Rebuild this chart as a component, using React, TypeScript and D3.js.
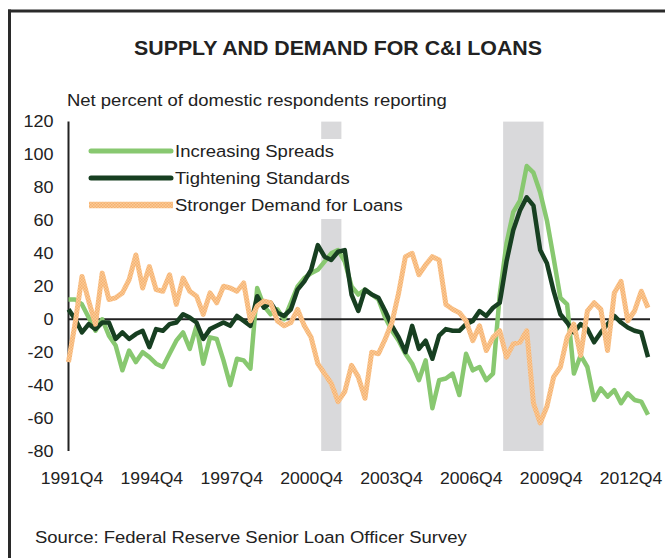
import React from "react";
import * as d3 from "d3";

// ---------- DATA ----------
const firstYear = 1991;
const firstQuarter = 4;
const nQuarters = 87; // 1991Q4 .. 2013Q2
const quarters: string[] = [];
{
  let y = firstYear, q = firstQuarter;
  for (let k = 0; k < nQuarters; k++) {
    quarters.push(`${y}Q${q}`);
    q++;
    if (q > 4) { q = 1; y++; }
  }
}

const increasingSpreads = [
  12, 12, 9, 1, -7, 0, -10, -16, -31, -19,
  -26, -20, -23, -27, -29, -21, -13, -8, -18, -4,
  -27, -11, -12, -25, -40, -24, -25, -30, 19, 8,
  3, 6, 0, 10, 20, 25, 28, 30, 35, 40,
  42, 35, 20, 15, 18, 15, 12, 1, -7, -13,
  -21, -27, -37, -25, -54, -37, -36, -33, -46, -21,
  -31, -29, -37, -33, 15, 46, 65, 72, 93, 89,
  77, 60, 37, 13, 9, -33, -22, -29, -49, -42,
  -47, -43, -51, -45, -49, -50, -58,
];

const tighteningStandards = [
  6, 0, -8, -3, -6, -2, -2, -12, -8, -12,
  -9, -7, -17, -6, -7, -3, -2, 3, 1, -2,
  -12, -6, -4, -2, -4, 2, -1, -4, 14, 7,
  10, 4, 2, 6, 18, 23, 30, 45, 38, 36,
  41, 42, 15, 5, 18, 15, 13, 5, -4, -11,
  -20, -4, -18, -13, -24, -10, -6, -7, -7, -3,
  -1, 5, 2, 7, 10, 35, 54, 66, 74, 69,
  42, 34, 17, 3, -2, -8, -3, -6, -14, -8,
  -3, 2, -2, -5, -7, -8, -23,
];

const strongerDemand = [
  -26, -2, 26, 11, -3, 28, 12, 13, 16, 24,
  39, 19, 32, 18, 17, 27, 9, 25, 17, 14,
  3, 16, 10, 20, 19, 17, 22, -1, 8, 11,
  10, -1, -4, -2, 6, -4, -11, -27, -33, -39,
  -50, -44, -28, -35, -48, -20, -21, -12, -2, 16,
  38, 40, 27, 33, 38, 36, 9, 6, 4, -1,
  -13, -4, -19, -11, -7, -23, -15, -14, -7, -51,
  -63, -53, -35, -29, -11, -3, -22, 5, 10, 6,
  -19, 16, 23, -1, 5, 17, 7,
];

const xTickLabels = ["1991Q4", "1994Q4", "1997Q4", "2000Q4", "2003Q4", "2006Q4", "2009Q4", "2012Q4"];
const yTicks = [120, 100, 80, 60, 40, 20, 0, -20, -40, -60, -80];
const recessions = [
  { start: "2001Q2", end: "2001Q4" },
  { start: "2008Q1", end: "2009Q2" },
];
const seriesNames = ["Increasing Spreads", "Tightening Standards", "Stronger Demand for Loans"];

// ---------- STYLE ----------
const W = 665;
const H = 558;
const FONT = "'Liberation Sans', Arial, Helvetica, sans-serif";
const SX = 1.1;
const TEXT = "#222";
const LIGHT_GREEN = "#88C870";
const DARK_GREEN = "#173F21";

function T(props: {
  x: number; y: number; size: number; anchor?: string; weight?: string | number; children: React.ReactNode;
}) {
  const { x, y, size, anchor = "start", weight = "normal", children } = props;
  return (
    <text
      transform={`translate(${x},${y}) scale(${SX},1)`}
      textAnchor={anchor as any}
      fontSize={size}
      fontWeight={weight as any}
      fontFamily={FONT}
      fill={TEXT}
    >
      {children}
    </text>
  );
}

export default function App() {
  const x = d3.scaleLinear().domain([0, nQuarters - 1]).range([68.5, 648]);
  const y = d3.scaleLinear().domain([-80, 120]).range([451, 121.6]);
  const step = x(1) - x(0);
  const idx = (q: string) => quarters.indexOf(q);
  // category label placement (labels sit slightly inside the plotted range)
  const xLabel = d3.scaleLinear().domain([idx(xTickLabels[0]), idx(xTickLabels[xTickLabels.length - 1])]).range([72, 631]);

  const line = d3
    .line<number>()
    .x((_, i) => x(i))
    .y((d) => y(d))
    .curve(d3.curveLinear);

  const legendY = [151, 178, 205];

  return (
    <div style={{ position: "absolute", left: 0, top: 0 }}>
      <svg width={W} height={H} viewBox={`0 0 ${W} ${H}`} style={{ display: "block", background: "#fff" }}>
        <defs>
          <pattern id="orangeTex" width={3} height={3} patternUnits="userSpaceOnUse">
            <rect width={3} height={3} fill="#FBCB97" />
            <rect width={1.5} height={1.5} fill="#F5B271" />
            <rect x={1.5} y={1.5} width={1.5} height={1.5} fill="#F5B271" />
          </pattern>
        </defs>

        {/* frame */}
        <line x1={8} y1={11} x2={W} y2={11} stroke="#2a2a2a" strokeWidth={3} />
        <line x1={9.5} y1={9.5} x2={9.5} y2={H} stroke="#2a2a2a" strokeWidth={3} />

        {/* title */}
        <T x={338} y={55} size={19.4} anchor="middle" weight="bold">SUPPLY AND DEMAND FOR C&amp;I LOANS</T>
        <T x={67} y={106} size={16.8}>Net percent of domestic respondents reporting</T>

        {/* recession bands */}
        {recessions.map((r, k) => (
          <rect
            key={k}
            x={x(idx(r.start)) - step / 2}
            y={y(120)}
            width={x(idx(r.end)) - x(idx(r.start)) + step}
            height={y(-80) - y(120)}
            fill="#D9D9DB"
          />
        ))}

        {/* legend background */}
        <rect x={80} y={139} width={335} height={80} fill="#fff" />

        {/* y axis */}
        <line x1={x(0)} y1={y(120)} x2={x(0)} y2={y(-80)} stroke="#222" strokeWidth={2} />
        {yTicks.map((t) => (
          <T key={t} x={53.5} y={y(t) + 5.8} size={16.4} anchor="end">{t}</T>
        ))}

        {/* zero line */}
        <line x1={x(0)} y1={y(0)} x2={650} y2={y(0)} stroke="#222" strokeWidth={2} />

        {/* series */}
        <path d={line(increasingSpreads) || ""} fill="none" stroke={LIGHT_GREEN} strokeWidth={4.5} strokeLinejoin="round" />
        <path d={line(tighteningStandards) || ""} fill="none" stroke={DARK_GREEN} strokeWidth={4.5} strokeLinejoin="round" />
        <path d={line(strongerDemand) || ""} fill="none" stroke="url(#orangeTex)" strokeWidth={5} strokeLinejoin="round" />

        {/* x labels */}
        {xTickLabels.map((lab) => (
          <T key={lab} x={xLabel(idx(lab))} y={484} size={16} anchor="middle">{lab}</T>
        ))}

        {/* legend */}
        <line x1={91} y1={legendY[0]} x2={171} y2={legendY[0]} stroke={LIGHT_GREEN} strokeWidth={5} strokeLinecap="round" />
        <line x1={91} y1={legendY[1]} x2={171} y2={legendY[1]} stroke={DARK_GREEN} strokeWidth={5} strokeLinecap="round" />
        <line x1={89} y1={legendY[2]} x2={173} y2={legendY[2]} stroke="url(#orangeTex)" strokeWidth={6.5} strokeLinecap="butt" />
        {seriesNames.map((n, k) => (
          <T key={n} x={175} y={legendY[k] + 6} size={16.8}>{n}</T>
        ))}

        {/* source */}
        <T x={35} y={543} size={16.8}>Source: Federal Reserve Senior Loan Officer Survey</T>
      </svg>
    </div>
  );
}
